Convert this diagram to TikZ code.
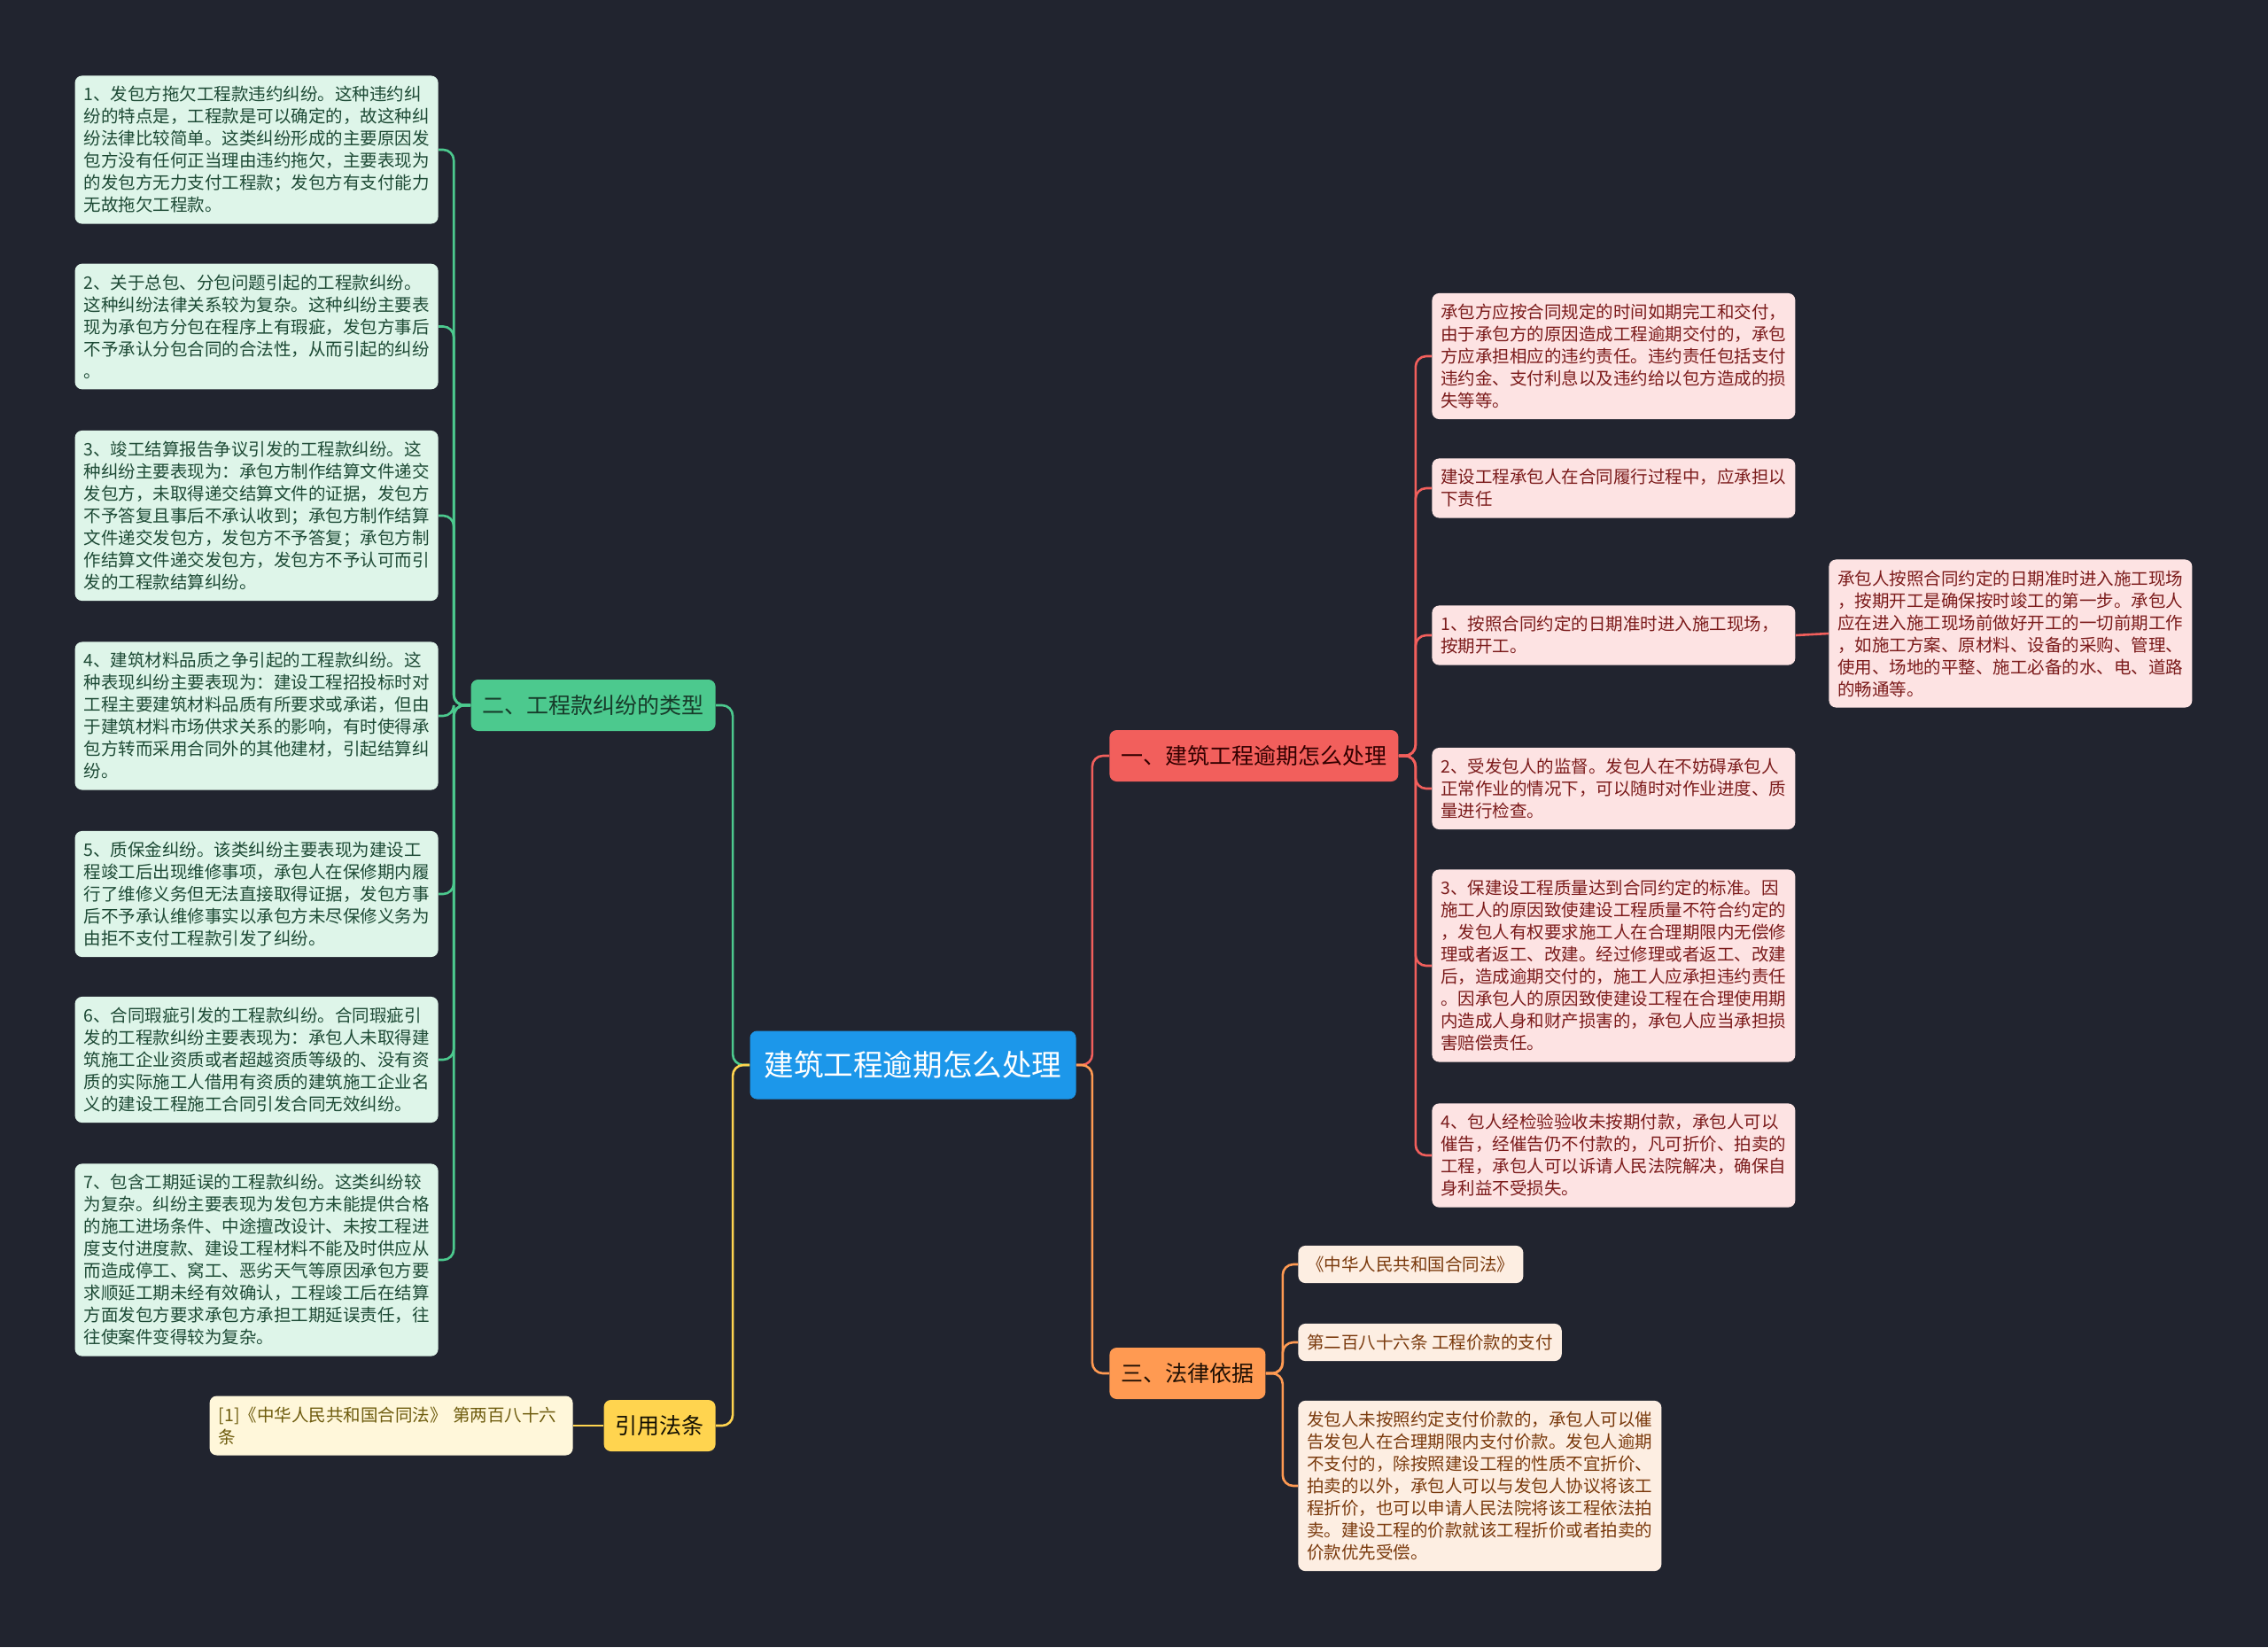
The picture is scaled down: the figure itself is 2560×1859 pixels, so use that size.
\documentclass[tikz,border=0pt]{standalone}
\usepackage{fontspec}
\setmainfont{Noto Sans CJK SC}
\usepackage{tikz}

\definecolor{bgdark}{HTML}{21242F}
\definecolor{rootblue}{HTML}{1C97EA}
\definecolor{grnline}{HTML}{4CC98E}
\definecolor{grnfill}{HTML}{DEF5E9}
\definecolor{grntext}{HTML}{1D4A35}
\definecolor{redline}{HTML}{F25F5C}
\definecolor{redfill}{HTML}{FDE3E3}
\definecolor{redtext}{HTML}{7B1B1B}
\definecolor{orgline}{HTML}{FF9A52}
\definecolor{orgfill}{HTML}{FDEEE2}
\definecolor{orgtext}{HTML}{7A3A0D}
\definecolor{ylwline}{HTML}{FFD44F}
\definecolor{ylwfill}{HTML}{FFF7DA}
\definecolor{ylwtext}{HTML}{6E5C0E}

\newcommand{\leaffont}{\fontsize{9.75pt}{12.5pt}\selectfont}
\newcommand{\branchfont}{\fontsize{12.5pt}{15pt}\selectfont}
\newcommand{\rootfont}{\fontsize{16.8pt}{20pt}\selectfont}

\tikzset{
  rootnode/.style={rounded corners=4pt, fill=rootblue, text=white, font=\rootfont,
    inner xsep=8pt, minimum height=38.5pt},
  branch/.style={rounded corners=4pt, font=\branchfont, inner xsep=6.5pt, minimum height=29pt},
  leafbase/.style={rounded corners=4pt, font=\leaffont, align=left, inner xsep=5pt, inner ysep=6pt},
  leaf/.style={leafbase, text width=195pt},
  leafg/.style={leaf, fill=grnfill, text=grntext},
  leafr/.style={leaf, fill=redfill, text=redtext},
  leafo/.style={leaf, fill=orgfill, text=orgtext},
  leafy/.style={leaf, fill=ylwfill, text=ylwtext},
  lnk/.style={line width=1.3pt, rounded corners=6pt},
}

\begin{document}
\begin{tikzpicture}[x=0.5pt,y=0.5pt,yscale=-1,xscale=1]
%set diagram size 2560 x 1859
\path[fill=bgdark] (0,0) rectangle (2560,1859);

% Root Node
\draw (1030.5,1202) node [rootnode] (root) {建筑工程逾期怎么处理};

% Branch Nodes
\draw (1252,853) node [anchor=west][branch, fill=redline, text=black!80!red] (b1) {一、建筑工程逾期怎么处理};
\draw (808,796) node [anchor=east][branch, fill=grnline, text=grntext!80!black] (b2) {二、工程款纠纷的类型};
\draw (1252,1550) node [anchor=west][branch, fill=orgline, text=black!75!orgtext] (b3) {三、法律依据};
\draw (808,1609) node [anchor=east][branch, fill=ylwline, text=black!85!ylwtext] (b4) {引用法条};

% Text Node
\draw (495,169) node [anchor=east][leafg] (g1) {1、发包方拖欠工程款违约纠纷。这种违约纠\\纷的特点是，工程款是可以确定的，故这种纠\\纷法律比较简单。这类纠纷形成的主要原因发\\包方没有任何正当理由违约拖欠，主要表现为\\的发包方无力支付工程款；发包方有支付能力\\无故拖欠工程款。};
% Text Node
\draw (495,368.5) node [anchor=east][leafg] (g2) {2、关于总包、分包问题引起的工程款纠纷。\\这种纠纷法律关系较为复杂。这种纠纷主要表\\现为承包方分包在程序上有瑕疵，发包方事后\\不予承认分包合同的合法性，从而引起的纠纷\\。};
% Text Node
\draw (495,582) node [anchor=east][leafg] (g3) {3、竣工结算报告争议引发的工程款纠纷。这\\种纠纷主要表现为：承包方制作结算文件递交\\发包方，未取得递交结算文件的证据，发包方\\不予答复且事后不承认收到；承包方制作结算\\文件递交发包方，发包方不予答复；承包方制\\作结算文件递交发包方，发包方不予认可而引\\发的工程款结算纠纷。};
% Text Node
\draw (495,808) node [anchor=east][leafg] (g4) {4、建筑材料品质之争引起的工程款纠纷。这\\种表现纠纷主要表现为：建设工程招投标时对\\工程主要建筑材料品质有所要求或承诺，但由\\于建筑材料市场供求关系的影响，有时使得承\\包方转而采用合同外的其他建材，引起结算纠\\纷。};
% Text Node
\draw (495,1009) node [anchor=east][leafg] (g5) {5、质保金纠纷。该类纠纷主要表现为建设工\\程竣工后出现维修事项，承包人在保修期内履\\行了维修义务但无法直接取得证据，发包方事\\后不予承认维修事实以承包方未尽保修义务为\\由拒不支付工程款引发了纠纷。};
% Text Node
\draw (495,1196) node [anchor=east][leafg] (g6) {6、合同瑕疵引发的工程款纠纷。合同瑕疵引\\发的工程款纠纷主要表现为：承包人未取得建\\筑施工企业资质或者超越资质等级的、没有资\\质的实际施工人借用有资质的建筑施工企业名\\义的建设工程施工合同引发合同无效纠纷。};
% Text Node
\draw (495,1422) node [anchor=east][leafg] (g7) {7、包含工期延误的工程款纠纷。这类纠纷较\\为复杂。纠纷主要表现为发包方未能提供合格\\的施工进场条件、中途擅改设计、未按工程进\\度支付进度款、建设工程材料不能及时供应从\\而造成停工、窝工、恶劣天气等原因承包方要\\求顺延工期未经有效确认，工程竣工后在结算\\方面发包方要求承包方承担工期延误责任，往\\往使案件变得较为复杂。};

% Text Node
\draw (1616,402) node [anchor=west][leafr] (r1) {承包方应按合同规定的时间如期完工和交付，\\由于承包方的原因造成工程逾期交付的，承包\\方应承担相应的违约责任。违约责任包括支付\\违约金、支付利息以及违约给以包方造成的损\\失等等。};
% Text Node
\draw (1616,551) node [anchor=west][leafr] (r2) {建设工程承包人在合同履行过程中，应承担以\\下责任};
% Text Node
\draw (1616,717) node [anchor=west][leafr] (r3) {1、按照合同约定的日期准时进入施工现场，\\按期开工。};
% Text Node
\draw (2064,715) node [anchor=west][leafr] (r3a) {承包人按照合同约定的日期准时进入施工现场\\，按期开工是确保按时竣工的第一步。承包人\\应在进入施工现场前做好开工的一切前期工作\\，如施工方案、原材料、设备的采购、管理、\\使用、场地的平整、施工必备的水、电、道路\\的畅通等。};
% Text Node
\draw (1616,890) node [anchor=west][leafr] (r4) {2、受发包人的监督。发包人在不妨碍承包人\\正常作业的情况下，可以随时对作业进度、质\\量进行检查。};
% Text Node
\draw (1616,1090) node [anchor=west][leafr] (r5) {3、保建设工程质量达到合同约定的标准。因\\施工人的原因致使建设工程质量不符合约定的\\，发包人有权要求施工人在合理期限内无偿修\\理或者返工、改建。经过修理或者返工、改建\\后，造成逾期交付的，施工人应承担违约责任\\。因承包人的原因致使建设工程在合理使用期\\内造成人身和财产损害的，承包人应当承担损\\害赔偿责任。};
% Text Node
\draw (1616,1304) node [anchor=west][leafr] (r6) {4、包人经检验验收未按期付款，承包人可以\\催告，经催告仍不付款的，凡可折价、拍卖的\\工程，承包人可以诉请人民法院解决，确保自\\身利益不受损失。};

% Text Node
\draw (1465,1427) node [anchor=west][leafbase, fill=orgfill, text=orgtext] (o1) {《中华人民共和国合同法》};
% Text Node
\draw (1465,1515) node [anchor=west][leafbase, fill=orgfill, text=orgtext] (o2) {第二百八十六条 工程价款的支付};
% Text Node
\draw (1465,1677) node [anchor=west][leafo] (o3) {发包人未按照约定支付价款的，承包人可以催\\告发包人在合理期限内支付价款。发包人逾期\\不支付的，除按照建设工程的性质不宜折价、\\拍卖的以外，承包人可以与发包人协议将该工\\程折价，也可以申请人民法院将该工程依法拍\\卖。建设工程的价款就该工程折价或者拍卖的\\价款优先受偿。};

% Text Node
\draw (647,1609) node [anchor=east][leafy] (y1) {[1]《中华人民共和国合同法》 第两百八十六\\条};

%Connectors
\draw[lnk, redline] (root.east) -- ++(18,0) |- (b1.west);
\draw[lnk, orgline] (root.east) -- ++(18,0) |- (b3.west);
\draw[lnk, grnline] (root.west) -- ++(-19,0) |- (b2.east);
\draw[lnk, ylwline] (root.west) -- ++(-19,0) |- (b4.east);

\foreach \n in {1,...,7}
  \draw[lnk, grnline] (b2.west) -- ++(-19,0) |- (g\n.east);
\foreach \n in {1,...,6}
  \draw[lnk, redline] (b1.east) -- ++(19,0) |- (r\n.west);
\draw[lnk, redline] (r3.east) -- (r3a.west);
\foreach \n in {1,2,3}
  \draw[lnk, orgline] (b3.east) -- ++(19,0) |- (o\n.west);
\draw[lnk, ylwline] (b4.west) -- (y1.east);

\end{tikzpicture}
\end{document}
